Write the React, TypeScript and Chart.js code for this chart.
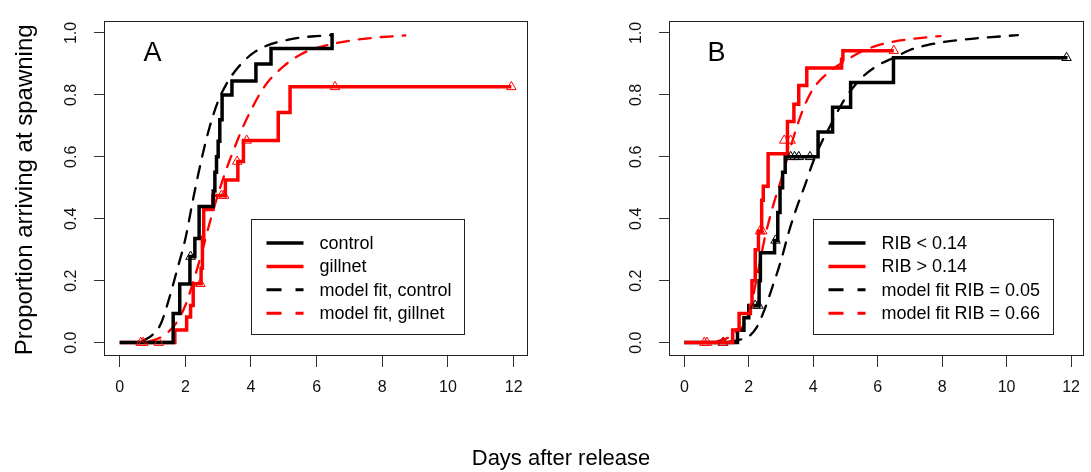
import { useEffect, useRef } from "react";
import { Chart, registerables } from "chart.js";

Chart.register(...registerables);

const FONT = "'Liberation Sans', Arial, Helvetica, sans-serif";

// ---------------- shared axes ----------------
const xTickValues = [0, 2, 4, 6, 8, 10, 12];
const yTickValues = [0, 0.2, 0.4, 0.6, 0.8, 1.0];
const xAxisTitle = "Days after release";
const yAxisTitle = "Proportion arriving at spawning";

// ---------------- Panel A ----------------
const aLetter = "A";
const aLegendLabels = ["control", "gillnet", "model fit, control", "model fit, gillnet"];

const aControlTimes = [0, 1.63, 1.83, 2.14, 2.29, 2.42, 2.85, 2.9, 2.95, 3.0, 3.05, 3.12, 3.42, 4.15, 4.61, 6.47];
const aControlProp = [0, 0.094, 0.189, 0.278, 0.336, 0.44, 0.49, 0.55, 0.6, 0.65, 0.72, 0.8, 0.845, 0.9, 0.95, 1.0];
const aControlCensorTimes = [2.16];
const aControlCensorProp = [0.278];

const aGillnetTimes = [0, 1.68, 2.04, 2.16, 2.24, 2.48, 2.52, 2.56, 2.84, 3.22, 3.6, 3.77, 4.83, 5.19, 11.93];
const aGillnetProp = [0, 0.041, 0.083, 0.12, 0.19, 0.24, 0.34, 0.43, 0.475, 0.525, 0.585, 0.653, 0.743, 0.826, 0.826];
const aGillnetCensorTimes = [0.64, 0.72, 1.19, 2.46, 3.1, 3.18, 3.58, 3.87, 6.56, 11.93];
const aGillnetCensorProp = [0, 0, 0, 0.19, 0.475, 0.475, 0.585, 0.653, 0.826, 0.826];

const aFitControlDays = [0.7, 1.0, 1.25, 1.5, 1.75, 2.0, 2.25, 2.5, 2.75, 3.0, 3.25, 3.5, 4.0, 4.5, 5.0, 5.5, 6.0, 6.47];
const aFitControlProp = [0.005, 0.025, 0.06, 0.14, 0.235, 0.335, 0.47, 0.595, 0.7, 0.78, 0.835, 0.875, 0.93, 0.96, 0.975, 0.985, 0.99, 0.993];

const aFitGillnetDays = [0.9, 1.3, 1.7, 2.0, 2.25, 2.5, 2.75, 3.0, 3.25, 3.5, 3.75, 4.0, 4.25, 4.5, 5.0, 5.5, 6.0, 6.5, 7.0, 7.5, 8.0, 8.7];
const aFitGillnetProp = [0.003, 0.02, 0.06, 0.12, 0.2, 0.29, 0.39, 0.48, 0.56, 0.63, 0.695, 0.75, 0.8, 0.84, 0.893, 0.93, 0.952, 0.965, 0.975, 0.982, 0.987, 0.992];

// ---------------- Panel B ----------------
const bLetter = "B";
const bLegendLabels = ["RIB < 0.14", "RIB > 0.14", "model fit RIB = 0.05", "model fit RIB = 0.66"];

const bLowTimes = [0, 1.65, 1.85, 2.0, 2.32, 2.36, 2.8, 2.9, 2.97, 3.05, 3.13, 4.15, 4.6, 5.16, 6.49, 11.89];
const bLowProp = [0, 0.04, 0.08, 0.12, 0.2, 0.29, 0.33, 0.42, 0.5, 0.55, 0.6, 0.68, 0.76, 0.84, 0.92, 0.92];
const bLowCensorTimes = [1.2, 2.2, 2.3, 2.83, 3.3, 3.42, 3.55, 3.9, 11.86];
const bLowCensorProp = [0, 0.12, 0.12, 0.33, 0.6, 0.6, 0.6, 0.6, 0.92];

const bHighTimes = [0, 1.5, 1.7, 2.05, 2.1, 2.2, 2.3, 2.4, 2.45, 2.6, 3.2, 3.4, 3.55, 3.8, 4.88, 4.92, 6.5];
const bHighProp = [0, 0.041, 0.094, 0.12, 0.2, 0.3, 0.36, 0.46, 0.505, 0.61, 0.714, 0.77, 0.83, 0.887, 0.915, 0.943, 0.943];
const bHighCensorTimes = [0.62, 0.7, 1.2, 2.35, 2.42, 3.1, 3.3, 6.5];
const bHighCensorProp = [0, 0, 0, 0.36, 0.36, 0.653, 0.653, 0.943];

const bFitLowDays = [1.4, 1.75, 2.0, 2.25, 2.5, 2.75, 3.0, 3.25, 3.5, 3.75, 4.0, 4.25, 4.5, 4.75, 5.0, 5.5, 6.0, 6.5, 7.0, 7.5, 8.0, 9.0, 10.35];
const bFitLowProp = [0.003, 0.01, 0.02, 0.05, 0.11, 0.185, 0.265, 0.36, 0.44, 0.51, 0.585, 0.645, 0.695, 0.745, 0.79, 0.855, 0.895, 0.92, 0.945, 0.96, 0.97, 0.982, 0.993];

const bFitHighDays = [1.0, 1.5, 2.0, 2.25, 2.5, 2.75, 3.0, 3.25, 3.5, 3.75, 4.0, 4.5, 5.0, 5.5, 6.0, 6.5, 7.0, 7.5, 7.95];
const bFitHighProp = [0.003, 0.025, 0.09, 0.21, 0.34, 0.44, 0.525, 0.615, 0.7, 0.77, 0.82, 0.875, 0.91, 0.94, 0.96, 0.972, 0.98, 0.986, 0.99];

// ---------------- helpers ----------------
const RED = "#ff0000";
const BLACK = "#000000";

const pts = (xs: number[], ys: number[]) => xs.map((x, i) => ({ x, y: ys[i] }));

const stepSet = (xs: number[], ys: number[], color: string, order: number) => ({
  data: pts(xs, ys),
  showLine: true,
  stepped: "before",
  borderColor: color,
  borderWidth: 3.5,
  pointRadius: 0,
  fill: false,
  order,
});

const fitSet = (xs: number[], ys: number[], color: string, order: number) => ({
  data: pts(xs, ys),
  showLine: true,
  borderColor: color,
  borderWidth: 2.3,
  borderDash: [12, 10],
  borderCapStyle: "round",
  cubicInterpolationMode: "monotone",
  pointRadius: 0,
  fill: false,
  order,
});

const censorSet = (xs: number[], ys: number[], color: string, order: number) => ({
  data: pts(xs, ys),
  showLine: false,
  pointStyle: "triangle",
  pointRadius: 5.5,
  pointBorderWidth: 1,
  pointBorderColor: color,
  pointBackgroundColor: "rgba(0,0,0,0)",
  order,
});

type LegendItem = { label: string; color: string; dashed: boolean };

type PanelSpec = {
  letter: string;
  datasets: any[];
  legend: LegendItem[];
  xDataMax: number;
  padLeft: number;
  padRight: number;
  yAxisWidth: number;
  drawTitles: boolean;
};

const panelA: PanelSpec = {
  letter: aLetter,
  datasets: [
    censorSet(aControlCensorTimes, aControlCensorProp, BLACK, 0),
    censorSet(aGillnetCensorTimes, aGillnetCensorProp, RED, 1),
    stepSet(aControlTimes, aControlProp, BLACK, 2),
    stepSet(aGillnetTimes, aGillnetProp, RED, 3),
    fitSet(aFitControlDays, aFitControlProp, BLACK, 4),
    fitSet(aFitGillnetDays, aFitGillnetProp, RED, 5),
  ],
  legend: [
    { label: aLegendLabels[0], color: BLACK, dashed: false },
    { label: aLegendLabels[1], color: RED, dashed: false },
    { label: aLegendLabels[2], color: BLACK, dashed: true },
    { label: aLegendLabels[3], color: RED, dashed: true },
  ],
  xDataMax: Math.max(...aGillnetTimes, ...aGillnetCensorTimes),
  padLeft: 0,
  padRight: 564,
  yAxisWidth: 104,
  drawTitles: true,
};

const panelB: PanelSpec = {
  letter: bLetter,
  datasets: [
    censorSet(bHighCensorTimes, bHighCensorProp, RED, 0),
    censorSet(bLowCensorTimes, bLowCensorProp, BLACK, 1),
    stepSet(bHighTimes, bHighProp, RED, 2),
    stepSet(bLowTimes, bLowProp, BLACK, 3),
    fitSet(bFitHighDays, bFitHighProp, RED, 4),
    fitSet(bFitLowDays, bFitLowProp, BLACK, 5),
  ],
  legend: [
    { label: bLegendLabels[0], color: BLACK, dashed: false },
    { label: bLegendLabels[1], color: RED, dashed: false },
    { label: bLegendLabels[2], color: BLACK, dashed: true },
    { label: bLegendLabels[3], color: RED, dashed: true },
  ],
  xDataMax: Math.max(...bLowTimes, ...bLowCensorTimes),
  padLeft: 609,
  padRight: 2,
  yAxisWidth: 60,
  drawTitles: false,
};

const W = 1091;
const H = 472;

function makeDecorPlugin(spec: PanelSpec) {
  return {
    id: "rDecor" + spec.letter,
    afterDraw(chart: any) {
      const ctx = chart.ctx;
      const area = chart.chartArea;
      const xs = chart.scales.x;
      const ys = chart.scales.y;
      ctx.save();
      // plot box
      ctx.strokeStyle = "#222";
      ctx.lineWidth = 1;
      ctx.setLineDash([]);
      ctx.strokeRect(Math.round(area.left) + 0.5, Math.round(area.top) + 0.5, Math.round(area.right - area.left), Math.round(area.bottom - area.top));

      // panel letter
      ctx.fillStyle = "#000";
      ctx.font = `27px ${FONT}`;
      ctx.textAlign = "center";
      ctx.textBaseline = "alphabetic";
      ctx.fillText(spec.letter, xs.getPixelForValue(1), ys.getPixelForValue(0.94) + 9.7);

      // legend
      ctx.font = `18px ${FONT}`;
      const left = Math.round(xs.getPixelForValue(4)) + 0.5;
      const top = Math.round(ys.getPixelForValue(0.4)) + 0.5;
      const maxW = Math.max(...spec.legend.map((l) => ctx.measureText(l.label).width));
      const boxW = Math.round(68 + maxW + 13);
      const rowH = 23.4;
      const boxH = 115;
      ctx.strokeStyle = "#222";
      ctx.lineWidth = 1;
      ctx.strokeRect(left, top, boxW, boxH);
      ctx.textAlign = "left";
      ctx.textBaseline = "middle";
      spec.legend.forEach((item, i) => {
        const y = top + 23.5 + i * rowH;
        ctx.beginPath();
        ctx.strokeStyle = item.color;
        ctx.lineWidth = item.dashed ? 3 : 3.5;
        ctx.setLineDash(item.dashed ? [15, 14] : []);
        ctx.lineCap = "butt";
        ctx.moveTo(left + 15, y);
        ctx.lineTo(left + 52, y);
        ctx.stroke();
        ctx.setLineDash([]);
        ctx.fillStyle = "#000";
        ctx.fillText(item.label, left + 68, y + 1);
      });

      if (spec.drawTitles) {
        ctx.fillStyle = "#000";
        ctx.textAlign = "center";
        ctx.textBaseline = "middle";
        ctx.font = `24px ${FONT}`;
        ctx.save();
        ctx.translate(25, (area.top + area.bottom) / 2 + 2);
        ctx.rotate(-Math.PI / 2);
        ctx.fillText(yAxisTitle, 0, 0);
        ctx.restore();
        ctx.font = `22px ${FONT}`;
        ctx.fillText(xAxisTitle, 561, 459);
      }
      ctx.restore();
    },
  };
}

function buildConfig(spec: PanelSpec): any {
  const ext = spec.xDataMax * 0.04;
  return {
    type: "scatter",
    data: { datasets: spec.datasets },
    options: {
      animation: false,
      responsive: false,
      maintainAspectRatio: false,
      devicePixelRatio: 1,
      layout: { autoPadding: false, padding: { left: spec.padLeft, right: spec.padRight, top: 14, bottom: 0 } },
      plugins: { legend: { display: false }, tooltip: { enabled: false }, title: { display: false } },
      elements: { line: { tension: 0 } },
      scales: {
        x: {
          type: "linear",
          min: -ext,
          max: spec.xDataMax + ext,
          afterBuildTicks: (s: any) => {
            s.ticks = xTickValues.map((v) => ({ value: v }));
          },
          afterFit: (s: any) => {
            s.height = H - 355;
          },
          grid: { drawOnChartArea: false, drawTicks: true, tickLength: 12, color: "#333", lineWidth: 1 },
          border: { display: false },
          ticks: {
            autoSkip: false,
            maxRotation: 0,
            minRotation: 0,
            padding: 11,
            color: "#111",
            font: { family: FONT, size: 16 },
            callback: (v: any) => String(v),
          },
        },
        y: {
          type: "linear",
          min: -0.04,
          max: 1.04,
          afterBuildTicks: (s: any) => {
            s.ticks = yTickValues.map((v) => ({ value: v }));
          },
          afterFit: (s: any) => {
            s.width = spec.yAxisWidth;
          },
          grid: { drawOnChartArea: false, drawTicks: true, tickLength: 10, color: "#333", lineWidth: 1 },
          border: { display: false },
          ticks: {
            autoSkip: false,
            minRotation: 90,
            maxRotation: 90,
            crossAlign: "center",
            padding: 11,
            color: "#111",
            font: { family: FONT, size: 16 },
            callback: (v: any) => Number(v).toFixed(1),
          },
        },
      },
    },
    plugins: [makeDecorPlugin(spec)],
  };
}

function Panel({ spec }: { spec: PanelSpec }) {
  const ref = useRef<HTMLCanvasElement | null>(null);
  useEffect(() => {
    if (!ref.current) return;
    const chart = new Chart(ref.current, buildConfig(spec));
    return () => chart.destroy();
  }, [spec]);
  return (
    <canvas
      ref={ref}
      width={W}
      height={H}
      style={{ position: "absolute", left: 0, top: 0, width: W, height: H }}
    />
  );
}

export default function App() {
  return (
    <div style={{ position: "fixed", left: 0, top: 0, width: W, height: H, background: "#fff", overflow: "hidden" }}>
      <Panel spec={panelA} />
      <Panel spec={panelB} />
    </div>
  );
}
